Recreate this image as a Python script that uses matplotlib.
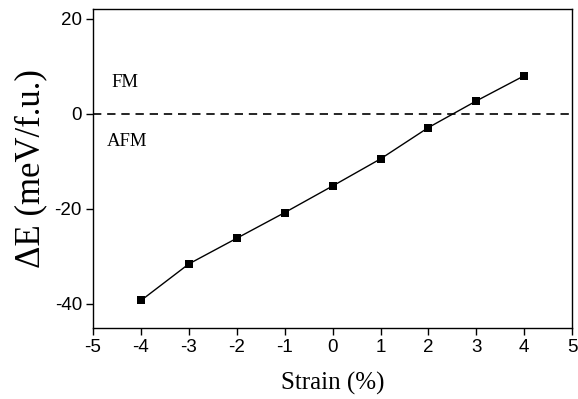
"""Exchange energy versus biaxial strain: FM/AFM boundary plot."""
import matplotlib
matplotlib.use("Agg")
import matplotlib.pyplot as plt

# Data
strain = [-4, -3, -2, -1, 0, 1, 2, 3, 4]
delta_e = [-39.3, -31.6, -26.2, -20.8, -15.2, -9.5, -2.9, 2.7, 8.0]
x_ticks = [-5, -4, -3, -2, -1, 0, 1, 2, 3, 4, 5]
y_ticks = [-40, -20, 0, 20]

SANS = "Liberation Sans"
SERIF = "Liberation Serif"

fig = plt.figure(figsize=(5.78, 3.99), dpi=100)
axe = fig.add_axes((0.161, 0.179, 0.829, 0.798))

# Zero line separating FM and AFM ground states
axe.axhline(0, color="black", linewidth=1.2, linestyle=(0, (5, 3.5)))
axe.plot(strain, delta_e, color="black", linewidth=1.0,
         marker="s", markersize=5.5, markeredgewidth=0)

axe.text(-4.62, 6.5, "FM", family=SERIF, fontsize=13.5, va="center", ha="left")
axe.text(-4.71, -5.8, "AFM", family=SERIF, fontsize=13.5, va="center", ha="left")

axe.set_xlim(-5, 5)
axe.set_ylim(-45, 22)
axe.set_xticks(x_ticks)
axe.set_yticks(y_ticks)
axe.set_xticklabels([str(t) for t in x_ticks], family=SANS, fontsize=13.5)
axe.set_yticklabels([str(t) for t in y_ticks], family=SANS, fontsize=13.5)
axe.tick_params(direction="out", length=5, width=1.0, pad=3,
                top=False, right=False)
for spine in axe.spines.values():
    spine.set_linewidth(1.0)

axe.set_xlabel("Strain (%)", family=SERIF, fontsize=18, labelpad=12)
axe.set_ylabel("ΔE (meV/f.u.)", family=SERIF, fontsize=25, labelpad=5)

fig.savefig("out.png", dpi=100)
